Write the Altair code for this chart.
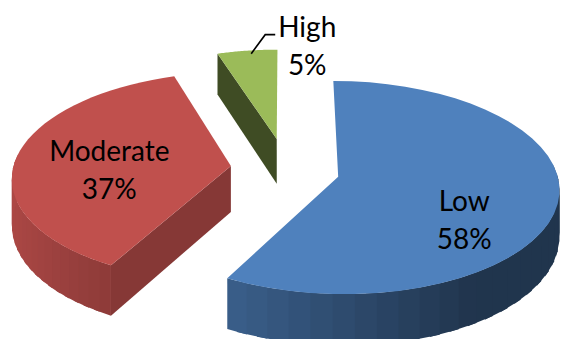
import altair as alt
import pandas as pd

# ---- data ----
categories = ["Low", "Moderate", "High"]
values = [58, 37, 5]

# ---- styles ----
colors = ["#4F81BD", "#C0504D", "#9BBB59"]
W, H = 562, 339
CX, CY = 285, 169          # projected pie centre
A, B = 218, 104            # horizontal / vertical radius
K = 0.10                   # perspective strength
D = 46                     # extrusion depth
EU, EV = 0.25, 0.30        # explode distance (x / y, in radius units)
NSEG = 40
OVERLAP = 0.5              # strip overlap (in segments) to hide seams
LABEL_F, LABEL_FY = 0.57, 1.07
OUT_THRESHOLD = 0.10
FONT = "Lato"
FSIZE = 28

df = pd.DataFrame({"category": categories, "value": values})

color_expr = " : ".join(
    f"datum.category === '{c}' ? '{col}'" for c, col in zip(categories, colors)
) + " : '#888888'"

proj = dict(
    u="datum.r*sin(datum.t) + datum.eu",
    v="-datum.rv*cos(datum.t) + datum.ev",
    s=f"1/(1 - {K}*datum.v)",
    px=f"{CX} + {A}*datum.u*datum.s",
    py=f"{CY} + ({B}*datum.v + {D}*datum.h)*datum.s",
)

base = (
    alt.Chart(df)
    .transform_window(idx="row_number()")
    .transform_joinaggregate(total="sum(value)")
    .transform_window(cum="sum(value)", sort=[alt.SortField("idx")], frame=[None, 0])
    .transform_calculate(
        t0="2*PI*(datum.cum - datum.value)/datum.total",
        t1="2*PI*datum.cum/datum.total",
    )
    .transform_calculate(
        tm="(datum.t0 + datum.t1)/2",
        basecol=color_expr,
    )
    .transform_calculate(
        eu=f"{EU}*sin(datum.tm)",
        ev=f"{-EV}*cos(datum.tm)",
    )
)

xs = alt.Scale(domain=[0, W], nice=False, zero=False)
ys = alt.Scale(domain=[0, H], nice=False, zero=False, reverse=True)

shade_col = (
    "'rgb(' + round(rgb(datum.basecol).r*datum.shade) + ',' + "
    "round(rgb(datum.basecol).g*datum.shade) + ',' + "
    "round(rgb(datum.basecol).b*datum.shade) + ')'"
)

# side faces (rim strips + radial faces)
sides = (
    base.transform_calculate(face=f"sequence(0, {NSEG + 2})")
    .transform_flatten(["face"])
    .transform_calculate(corner="sequence(0, 4)")
    .transform_flatten(["corner"])
    .transform_calculate(
        kind=f"datum.face < {NSEG} ? 0 : (datum.face == {NSEG} ? 1 : 2)",
        hi="(datum.corner == 1 || datum.corner == 2) ? 1 : 0",
        h="datum.corner >= 2 ? 1 : 0",
    )
    .transform_calculate(
        t=f"datum.kind == 0 ? min(datum.t1, datum.t0 + (datum.t1 - datum.t0)*(datum.face + datum.hi*(1 + {OVERLAP}))/{NSEG}) : (datum.kind == 1 ? datum.t0 : datum.t1)",
        r="datum.kind == 0 ? 1 : datum.hi",
        phi=f"datum.kind == 0 ? datum.t0 + (datum.t1 - datum.t0)*(datum.face + 0.5)/{NSEG} : (datum.kind == 1 ? datum.t0 - PI/2 : datum.t1 + PI/2)",
    )
    .transform_calculate(
        rv="datum.r",
        vis="datum.kind == 0 ? (-cos(datum.phi) > -0.1) : (-cos(datum.phi) > 0.001)",
        shade="datum.kind == 0 ? clamp(0.58 - 0.32*sin(datum.phi), 0.41, 0.9) : 0.56 + 0.16*sin(datum.phi)",
    )
    .transform_filter("datum.vis")
    .transform_calculate(**proj)
    .transform_calculate(fillc=shade_col, pid="datum.category + '-' + datum.face")
    .mark_line(filled=True, strokeWidth=0, clip=True)
    .encode(
        x=alt.X("px:Q", scale=xs, axis=None),
        y=alt.Y("py:Q", scale=ys, axis=None),
        order=alt.Order("corner:Q"),
        detail="pid:N",
        fill=alt.Fill("fillc:N", scale=None),
    )
)

# top faces
tops = (
    base.transform_calculate(k=f"sequence(0, {NSEG + 2})")
    .transform_flatten(["k"])
    .transform_calculate(
        t=f"datum.t0 + (datum.t1 - datum.t0)*(datum.k - 1)/{NSEG}",
        r="datum.k == 0 ? 0 : 1",
        h="0",
    )
    .transform_calculate(rv="datum.r")
    .transform_calculate(**proj)
    .mark_line(filled=True, strokeWidth=0, clip=True)
    .encode(
        x=alt.X("px:Q", scale=xs, axis=None),
        y=alt.Y("py:Q", scale=ys, axis=None),
        order=alt.Order("k:Q"),
        detail="category:N",
        fill=alt.Fill("basecol:N", scale=None),
    )
)

# labels
labels = (
    base.transform_calculate(
        pct="format(datum.value/datum.total, '.0%')",
        outside=f"datum.value/datum.total < {OUT_THRESHOLD}",
    )
    .transform_calculate(
        r=f"datum.outside ? 1 : {LABEL_F}",
        rv=f"datum.outside ? 1 : {LABEL_FY}",
        t="datum.tm",
        h="0",
    )
    .transform_calculate(**proj)
    .transform_calculate(
        lx="datum.outside ? datum.px + 60 : datum.px",
        ly1="datum.outside ? datum.py - 14 : datum.py + 5",
        ly2="datum.outside ? datum.py + 24 : datum.py + 43",
    )
)

line1 = labels.mark_text(font=FONT, fontSize=FSIZE, baseline="alphabetic", align="center", color="black").encode(
    x=alt.X("lx:Q", scale=xs, axis=None),
    y=alt.Y("ly1:Q", scale=ys, axis=None),
    text="category:N",
)
line2 = labels.mark_text(font=FONT, fontSize=FSIZE, baseline="alphabetic", align="center", color="black").encode(
    x=alt.X("lx:Q", scale=xs, axis=None),
    y=alt.Y("ly2:Q", scale=ys, axis=None),
    text="pct:N",
)

leader = (
    labels.transform_filter("datum.outside")
    .transform_calculate(p="sequence(0, 3)")
    .transform_flatten(["p"])
    .transform_calculate(
        qx="datum.p == 0 ? datum.px + 4 : (datum.p == 1 ? datum.px + 18 : datum.px + 28)",
        qy="datum.p == 0 ? datum.py + 3 : datum.py - 16",
    )
    .mark_line(color="black", strokeWidth=1.6)
    .encode(
        x=alt.X("qx:Q", scale=xs, axis=None),
        y=alt.Y("qy:Q", scale=ys, axis=None),
        order=alt.Order("p:Q"),
        detail="category:N",
    )
)

chart = (
    alt.layer(sides, tops, leader, line1, line2)
    .properties(width=W, height=H, padding=0, autosize=alt.AutoSizeParams(type="none"), background="white")
    .configure_view(stroke=None)
)

chart.save("out.html", embed_options={"renderer": "svg", "actions": False})
